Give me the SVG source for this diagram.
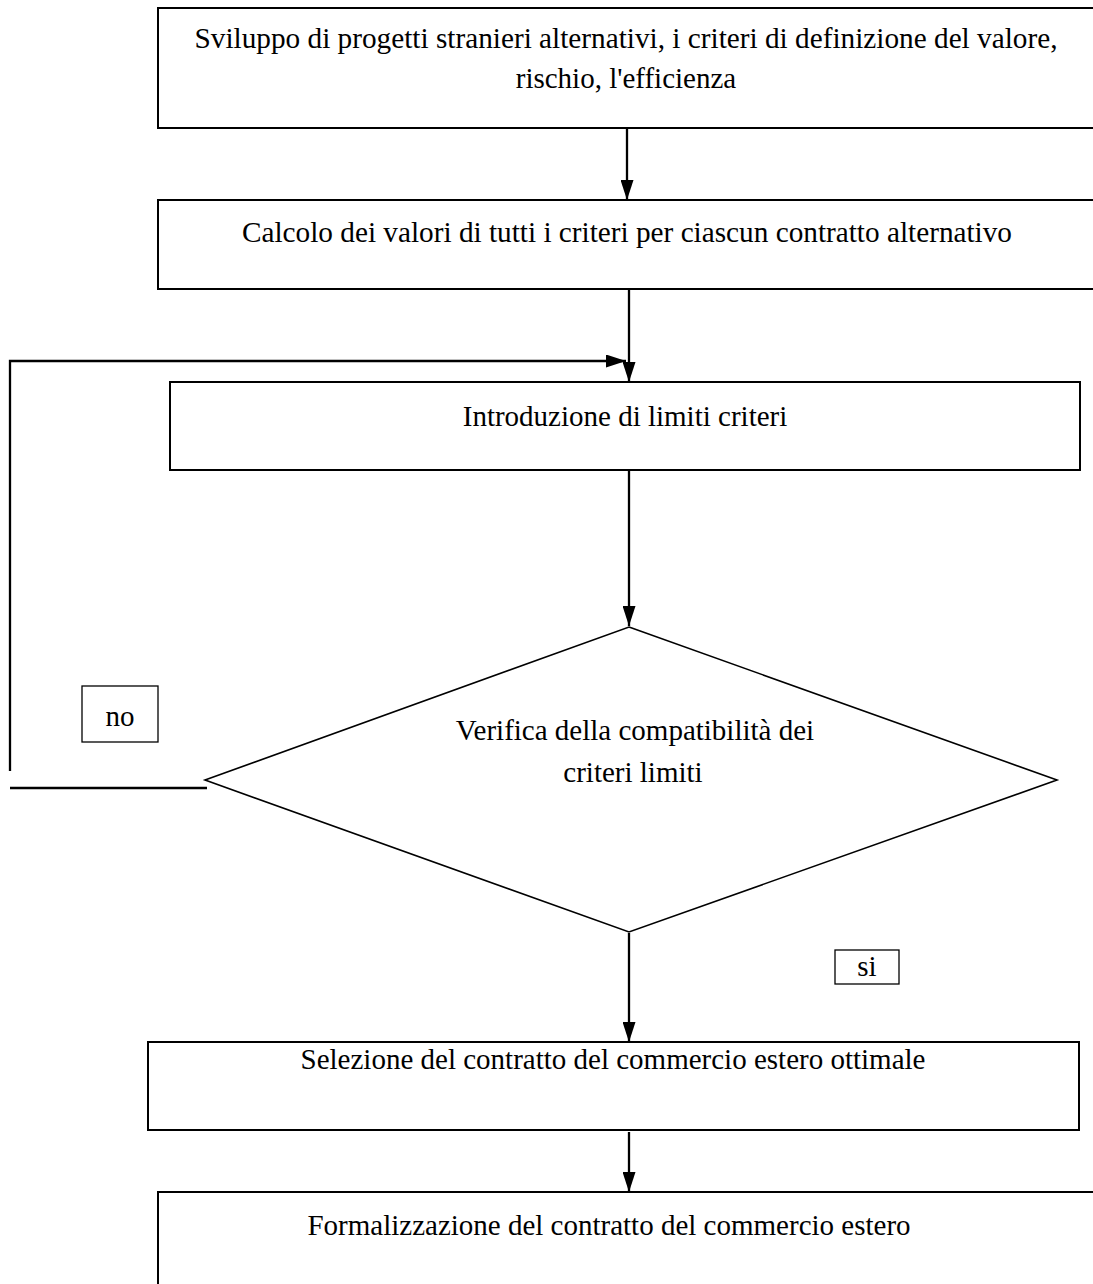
<svg xmlns="http://www.w3.org/2000/svg" width="1093" height="1284" viewBox="0 0 1093 1284">
<style>
.box{fill:#fff;stroke:#000;stroke-width:2}
.dia{fill:#fff;stroke:#000;stroke-width:1.6}
.lbl{fill:#fff;stroke:#000;stroke-width:1.3}
.ln{fill:none;stroke:#000;stroke-width:2.3}
text{font-family:"Liberation Serif","Times New Roman",serif;font-size:29px;fill:#000;text-anchor:middle}
</style>
<defs>
<marker id="ahl" viewBox="0 0 20 13" refX="20" refY="6.5" markerWidth="20" markerHeight="13" markerUnits="userSpaceOnUse" orient="auto">
<path d="M0,0 L20,6.5 L0,13 Z" fill="#000"/>
</marker>
</defs>
<g id="connectors">
<line class="ln" x1="627" y1="129" x2="627" y2="200" marker-end="url(#ahl)"/>
<line class="ln" x1="629" y1="290" x2="629" y2="382" marker-end="url(#ahl)"/>
<polyline class="ln" points="10,771 10,361 626,361" marker-end="url(#ahl)"/>
<line class="ln" x1="629" y1="471" x2="629" y2="626" marker-end="url(#ahl)"/>
<line class="ln" x1="10" y1="788" x2="207" y2="788"/>
<line class="ln" x1="629" y1="933" x2="629" y2="1042" marker-end="url(#ahl)"/>
<line class="ln" x1="629" y1="1132" x2="629" y2="1192" marker-end="url(#ahl)"/>
</g>
<g id="n1">
<rect class="box" x="158" y="8" width="940" height="120"/>
<text x="626" y="48" textLength="863" lengthAdjust="spacingAndGlyphs">Sviluppo di progetti stranieri alternativi, i criteri di definizione del valore,</text>
<text x="626" y="88">rischio, l'efficienza</text>
</g>
<g id="n2">
<rect class="box" x="158" y="200" width="940" height="89"/>
<text x="627" y="242" textLength="770" lengthAdjust="spacingAndGlyphs">Calcolo dei valori di tutti i criteri per ciascun contratto alternativo</text>
</g>
<g id="n3">
<rect class="box" x="170" y="382" width="910" height="88"/>
<text x="625" y="426">Introduzione di limiti criteri</text>
</g>
<g id="n4">
<polygon class="dia" points="629,627 1057,780 629,932 205,780"/>
<text x="635" y="740">Verifica della compatibilità dei</text>
<text x="633" y="782">criteri limiti</text>
</g>
<g id="no">
<rect class="lbl" x="82" y="686" width="76" height="56"/>
<text x="120" y="726">no</text>
</g>
<g id="si">
<rect class="lbl" x="835" y="950" width="64" height="34"/>
<text x="867" y="976">si</text>
</g>
<g id="n5">
<rect class="box" x="148" y="1042" width="931" height="88"/>
<text x="613" y="1069">Selezione del contratto del commercio estero ottimale</text>
</g>
<g id="n6">
<rect class="box" x="158" y="1192" width="940" height="100"/>
<text x="609" y="1235">Formalizzazione del contratto del commercio estero</text>
</g>
</svg>
